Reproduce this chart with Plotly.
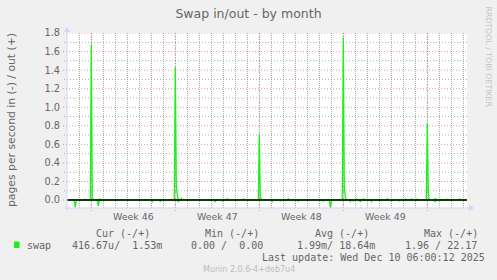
import pandas as pd
import plotly.graph_objects as go

# ---------------- data ----------------
title_text = "Swap in/out - by month"
y_title = "pages per second in (-) / out (+)"
week_starts = ["2025-11-10", "2025-11-17", "2025-11-24", "2025-12-01", "2025-12-08"]
week_labels = ["Week 46", "Week 47", "Week 48", "Week 49"]
y_major = [0.0, 0.2, 0.4, 0.6, 0.8, 1.0, 1.2, 1.4, 1.6, 1.8]
y_minor = [0.1, 0.3, 0.5, 0.7, 0.9, 1.1, 1.3, 1.5, 1.7]

sample_start = "2025-11-08 00:00"
sample_end = "2025-12-11 06:00"
x_range = ["2025-11-07 23:24", "2025-12-11 07:24"]

# swap out (+) : nonzero samples (all others are 0)
out_times = ["2025-11-09 12:00", "2025-11-10 00:00", "2025-11-10 02:00", "2025-11-10 16:00",
             "2025-11-17 00:00", "2025-11-17 02:00", "2025-11-17 04:00", "2025-11-17 12:00",
             "2025-11-21 08:00", "2025-11-22 16:00",
             "2025-11-24 00:00", "2025-11-24 02:00", "2025-11-26 10:00",
             "2025-12-01 00:00", "2025-12-01 02:00", "2025-12-01 04:00",
             "2025-12-02 02:00", "2025-12-02 16:00", "2025-12-04 16:00",
             "2025-12-06 04:00", "2025-12-06 16:00", "2025-12-07 04:00",
             "2025-12-08 00:00", "2025-12-08 02:00", "2025-12-08 16:00",
             "2025-12-09 14:00", "2025-12-10 16:00"]
out_values = [0.01, 1.68, 0.03, 0.01,
              1.43, 0.16, 0.05, 0.02,
              0.012, 0.01,
              0.71, 0.04, 0.015,
              1.75, 0.14, 0.03,
              0.01, 0.01, 0.012,
              0.01, 0.01, 0.01,
              0.83, 0.09, 0.015,
              0.01, 0.01]

# swap in (-) : magnitudes of nonzero samples (drawn negative)
in_times = ["2025-11-08 16:00", "2025-11-10 14:00", "2025-11-15 02:00", "2025-11-15 18:00",
            "2025-11-17 06:00", "2025-11-20 08:00", "2025-11-20 22:00",
            "2025-11-25 02:00", "2025-11-25 18:00", "2025-11-27 06:00",
            "2025-11-29 08:00", "2025-11-29 22:00",
            "2025-12-01 14:00", "2025-12-01 20:00", "2025-12-02 10:00",
            "2025-12-03 08:00", "2025-12-04 00:00", "2025-12-05 00:00",
            "2025-12-05 16:00", "2025-12-08 16:00"]
in_values = [0.08, 0.065, 0.018, 0.015,
             0.02, 0.02, 0.01,
             0.015, 0.01, 0.012,
             0.012, 0.083,
             0.015, 0.012, 0.02,
             0.015, 0.01, 0.01,
             0.01, 0.02]

series_name = "swap"
legend_headers = ["Cur (-/+)", "Min (-/+)", "Avg (-/+)", "Max (-/+)"]
legend_values = ["416.67u/  1.53m", "0.00 /  0.00", "1.99m/ 18.64m", "1.96 / 22.17"]
last_update = "Last update: Wed Dec 10 06:00:12 2025"
footer = "Munin 2.0.6-4+deb7u4"
watermark = "RRDTOOL / TOBI OETIKER"

# ---------------- build series ----------------
times = pd.date_range(sample_start, sample_end, freq="2h")
swap_out = pd.Series(0.0, index=times)
for t, v in zip(out_times, out_values):
    swap_out[pd.Timestamp(t)] = v
swap_in = pd.Series(0.0, index=times)
for t, v in zip(in_times, in_values):
    swap_in[pd.Timestamp(t)] = v

week_mids = [pd.Timestamp(w) + pd.Timedelta(hours=84) for w in week_starts[:len(week_labels)]]

# ---------------- layout geometry ----------------
W_IMG, H_IMG = 497, 280
L, T, PW, PH = 67, 33, 400, 175
B = T + PH


def fx(px):
    return (px - L) / PW


def fy(py):
    return (B - py) / PH


GREEN = "#1cf01c"
FONT = "#666666"
AXIS = "#CFD6F8"
GRID = "rgba(143,143,143,0.7)"
MGRID = "rgba(222,79,79,0.6)"
SANS = "DejaVu Sans"
MONO = "DejaVu Sans Mono"
DOTS = "1px,2px"

fig = go.Figure()
fig.add_trace(go.Scatter(x=times, y=-swap_in.values, mode="lines",
                         line=dict(color=GREEN, width=1.3), hoverinfo="skip", showlegend=False))
fig.add_trace(go.Scatter(x=times, y=swap_out.values, mode="lines",
                         line=dict(color=GREEN, width=1.3), hoverinfo="skip", showlegend=False))

shapes = []
# horizontal grid (minor grey, major red), slightly extending left of the axis
for yv in y_minor:
    shapes.append(dict(type="line", xref="paper", yref="y", x0=fx(64), x1=1, y0=yv, y1=yv,
                       line=dict(color=GRID, width=1, dash=DOTS), layer="between"))
for yv in y_major:
    shapes.append(dict(type="line", xref="paper", yref="y", x0=fx(63), x1=fx(468), y0=yv, y1=yv,
                       line=dict(color=MGRID, width=1, dash=DOTS), layer="between"))
for ws in week_starts:
    shapes.append(dict(type="line", xref="x", yref="paper", x0=ws, x1=ws, y0=-3 / PH, y1=1,
                       line=dict(color=MGRID, width=1, dash=DOTS), layer="between"))
# zero rule on top
shapes.append(dict(type="line", xref="paper", yref="y", x0=0, x1=1, y0=0, y1=0,
                   line=dict(color="#000000", width=1.3), layer="above"))
# axis lines and arrows
shapes.append(dict(type="line", xref="paper", yref="paper", x0=fx(64), x1=fx(470), y0=fy(208), y1=fy(208),
                   line=dict(color=AXIS, width=1), layer="above"))
shapes.append(dict(type="line", xref="paper", yref="paper", x0=fx(67), x1=fx(67), y0=fy(211), y1=fy(31),
                   line=dict(color=AXIS, width=1), layer="above"))
shapes.append(dict(type="path", xref="paper", yref="paper",
                   path=f"M {fx(469)},{fy(205)} L {fx(474)},{fy(208)} L {fx(469)},{fy(211)} Z",
                   fillcolor=AXIS, line=dict(width=0), layer="above"))
shapes.append(dict(type="path", xref="paper", yref="paper",
                   path=f"M {fx(64)},{fy(32)} L {fx(67)},{fy(27)} L {fx(70)},{fy(32)} Z",
                   fillcolor=AXIS, line=dict(width=0), layer="above"))
# legend colour box
shapes.append(dict(type="rect", xref="paper", yref="paper", x0=fx(14), x1=fx(19.5), y0=fy(248), y1=fy(241.5),
                   fillcolor=GREEN, line=dict(width=0)))

NB = "\u00a0"


def mono(s):
    return s.replace(" ", NB)


annotations = []
annotations.append(dict(text=y_title, xref="paper", yref="paper", x=fx(11.5), y=fy(120.5),
                        textangle=-90, showarrow=False, xanchor="center", yanchor="middle",
                        font=dict(family=SANS, size=10.8, color=FONT)))
annotations.append(dict(text=watermark, xref="paper", yref="paper", x=fx(488.5), y=fy(57),
                        textangle=90, showarrow=False, xanchor="center", yanchor="middle",
                        font=dict(family=SANS, size=7.8, color="#c4c4c4")))
header_x = [95, 204.3, 314, 423.3]
value_x = [71.7, 190.7, 296.7, 404.3]
for hx, h in zip(header_x, legend_headers):
    annotations.append(dict(text=mono(h), xref="paper", yref="paper", x=fx(hx - 1.5), y=fy(233.3),
                            showarrow=False, xanchor="left", yanchor="middle",
                            font=dict(family=MONO, size=10, color=FONT)))
annotations.append(dict(text=series_name, xref="paper", yref="paper", x=fx(26.7 - 1.5), y=fy(245),
                        showarrow=False, xanchor="left", yanchor="middle",
                        font=dict(family=MONO, size=10, color=FONT)))
for vx, v in zip(value_x, legend_values):
    annotations.append(dict(text=mono(v), xref="paper", yref="paper", x=fx(vx - 1.5), y=fy(245),
                            showarrow=False, xanchor="left", yanchor="middle",
                            font=dict(family=MONO, size=10, color=FONT)))
annotations.append(dict(text=mono(last_update), xref="paper", yref="paper", x=fx(261.7 - 1.5), y=fy(257.3),
                        showarrow=False, xanchor="left", yanchor="middle",
                        font=dict(family=MONO, size=10, color=FONT)))
annotations.append(dict(text=footer, xref="paper", yref="paper", x=fx(248.8), y=fy(269),
                        showarrow=False, xanchor="center", yanchor="middle",
                        font=dict(family=SANS, size=8, color="#bdbdbd")))

fig.update_layout(
    width=W_IMG, height=H_IMG,
    margin=dict(l=L, r=W_IMG - L - PW, t=T, b=H_IMG - B, pad=0),
    paper_bgcolor="#F0F0F0", plot_bgcolor="#FFFFFF",
    title=dict(text=title_text, x=0.5, xref="container", xanchor="center",
               y=1 - 13.3 / H_IMG, yref="container", yanchor="middle",
               font=dict(family=SANS, size=12.5, color=FONT)),
    showlegend=False,
    shapes=shapes, annotations=annotations,
    xaxis=dict(type="date", range=x_range, tickmode="array", tickvals=week_mids, ticktext=week_labels,
               showgrid=False, zeroline=False, showline=False, ticks="", ticklabelstandoff=2,
               tickfont=dict(family=SANS, size=9.4, color=FONT),
               minor=dict(dtick=86400000, tick0="2025-11-10", showgrid=True, gridcolor=GRID,
                          griddash="1px,1px", gridwidth=1, ticks="")),
    yaxis=dict(range=[-0.086, 1.8005], tickmode="array", tickvals=y_major,
               tickformat=".1f", showgrid=False,
               zeroline=False, showline=False, ticks="", ticklabelstandoff=6,
               tickfont=dict(family=SANS, size=9.8, color=FONT)),
)

fig.write_html("out.html")
